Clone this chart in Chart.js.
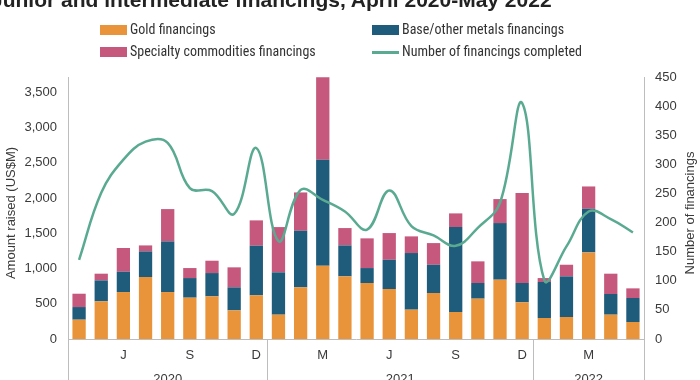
<!DOCTYPE html>
<html>
<head>
<meta charset="utf-8">
<script src="https://cdn.jsdelivr.net/npm/chart.js@4"></script>
<style>
  html, body { margin: 0; padding: 0; background: #fff; }
  #wrap { position: relative; width: 700px; height: 380px; overflow: hidden; background: #fff; }
  #c { position: absolute; left: 0; top: 0; }
  #title { position: absolute; left: -9px; top: -11px; font: bold 21px "Liberation Sans", Arial, sans-serif; line-height: 21px; color: #222; white-space: nowrap; }
  .lg { position: absolute; font: 14px "Liberation Sans Narrow", "Roboto Condensed", Roboto, sans-serif; color: #333; white-space: nowrap; line-height: 16px; }
  .sw { position: absolute; }
</style>
</head>
<body>
<div id="wrap">
  <canvas id="c" width="700" height="380"></canvas>
  <div id="title">Junior and intermediate financings, April 2020-May 2022</div>
  <div id="legend"></div>
</div>
<script>
const months = ['Apr 2020','May 2020','Jun 2020','Jul 2020','Aug 2020','Sep 2020','Oct 2020','Nov 2020','Dec 2020',
  'Jan 2021','Feb 2021','Mar 2021','Apr 2021','May 2021','Jun 2021','Jul 2021','Aug 2021','Sep 2021','Oct 2021','Nov 2021','Dec 2021',
  'Jan 2022','Feb 2022','Mar 2022','Apr 2022','May 2022'];
const tickLetters = ['', '', 'J', '', '', 'S', '', '', 'D', '', '', 'M', '', '', 'J', '', '', 'S', '', '', 'D', '', '', 'M', '', ''];
const years = ['2020', '2021', '2022'];
const yearFirstIndex = [0, 9, 21];
const yearLastIndex = [8, 20, 25];
const leftTicks = [0, 500, 1000, 1500, 2000, 2500, 3000, 3500];
const rightTicks = [0, 50, 100, 150, 200, 250, 300, 350, 400, 450];

const gold = [274, 534, 666, 879, 666, 586, 605, 406, 619, 345, 732, 1039, 888, 794, 709, 416, 652, 383, 572, 841, 520, 298, 312, 1228, 345, 241];
const baseMetals = [179, 297, 288, 363, 718, 278, 330, 326, 704, 600, 803, 1502, 439, 212, 415, 803, 401, 1204, 222, 803, 274, 510, 576, 619, 293, 340];
const specialty = [189, 95, 336, 85, 458, 142, 175, 284, 359, 642, 543, 1172, 246, 421, 378, 236, 307, 194, 307, 340, 1275, 56, 165, 316, 288, 137];
const financingsCount = [136, 251, 308, 339, 337, 259, 254, 215, 328, 168, 256, 239, 219, 188, 255, 194, 178, 160, 191, 234, 405, 101, 159, 219, 206, 183];

const seriesNames = ['Gold financings', 'Base/other metals financings', 'Specialty commodities financings', 'Number of financings completed'];
const colors = { gold: '#e9943a', base: '#1f5b7b', spec: '#c5587c', line: '#5aaa92' };

// HTML legend (two columns)
const legendItems = [
  { name: seriesNames[0], color: colors.gold, kind: 'box', x: 100, y: 30 },
  { name: seriesNames[1], color: colors.base, kind: 'box', x: 372, y: 30 },
  { name: seriesNames[2], color: colors.spec, kind: 'box', x: 100, y: 52 },
  { name: seriesNames[3], color: colors.line, kind: 'line', x: 372, y: 52 }
];
const lg = document.getElementById('legend');
legendItems.forEach(it => {
  const sw = document.createElement('div');
  sw.className = 'sw';
  sw.style.left = it.x + 'px';
  sw.style.width = '27px';
  sw.style.background = it.color;
  if (it.kind === 'box') { sw.style.top = (it.y - 5) + 'px'; sw.style.height = '10px'; }
  else { sw.style.top = (it.y - 1) + 'px'; sw.style.height = '2.5px'; }
  lg.appendChild(sw);
  const t = document.createElement('div');
  t.className = 'lg';
  t.style.left = (it.x + 30) + 'px';
  t.style.top = (it.y - 9) + 'px';
  t.textContent = it.name;
  lg.appendChild(t);
});

const tickFont = { family: '"Liberation Sans", Arial, sans-serif', size: 13 };
const axisColor = '#bdbdbd';
const textColor = '#3a3a3a';

const extras = {
  id: 'extras',
  afterDraw(chart) {
    const ctx = chart.ctx;
    const a = chart.chartArea;
    const x = chart.scales.x;
    const H = chart.height;
    ctx.save();
    ctx.strokeStyle = axisColor;
    ctx.lineWidth = 1;
    const vlines = [a.left, a.right];
    for (let i = 0; i < years.length - 1; i++) {
      vlines.push((x.getPixelForValue(yearLastIndex[i]) + x.getPixelForValue(yearFirstIndex[i + 1])) / 2);
    }
    vlines.forEach(px => {
      const p = Math.round(px) + 0.5;
      ctx.beginPath(); ctx.moveTo(p, a.bottom); ctx.lineTo(p, H); ctx.stroke();
    });
    // year labels
    ctx.fillStyle = textColor;
    ctx.font = '13px "Liberation Sans", Arial, sans-serif';
    ctx.textAlign = 'center';
    ctx.textBaseline = 'alphabetic';
    const bounds = [a.left, vlines[2], vlines[3], a.right];
    years.forEach((y, i) => {
      ctx.fillText(y, (bounds[i] + bounds[i + 1]) / 2, 383);
    });
    // axis titles
    const cy = (a.top + a.bottom) / 2 + 5;
    ctx.save();
    ctx.translate(11, cy);
    ctx.rotate(-Math.PI / 2);
    ctx.textBaseline = 'middle';
    ctx.fillText('Amount raised (US$M)', 0, 0);
    ctx.restore();
    ctx.save();
    ctx.translate(690, cy);
    ctx.rotate(-Math.PI / 2);
    ctx.textBaseline = 'middle';
    ctx.fillText('Number of financings', 0, 0);
    ctx.restore();
    ctx.restore();
  }
};

new Chart(document.getElementById('c'), {
  data: {
    labels: months,
    datasets: [
      { type: 'line', label: seriesNames[3], data: financingsCount, yAxisID: 'y1', borderColor: colors.line,
        borderWidth: 2.5, pointRadius: 0, tension: 0.4, fill: false, order: 0 },
      { type: 'bar', label: seriesNames[0], data: gold, backgroundColor: colors.gold, yAxisID: 'y', stack: 's', order: 1 },
      { type: 'bar', label: seriesNames[1], data: baseMetals, backgroundColor: colors.base, yAxisID: 'y', stack: 's', order: 1 },
      { type: 'bar', label: seriesNames[2], data: specialty, backgroundColor: colors.spec, yAxisID: 'y', stack: 's', order: 1 }
    ]
  },
  options: {
    responsive: false,
    animation: false,
    devicePixelRatio: 1,
    layout: { padding: { top: 77, left: 0, right: 0, bottom: 0 } },
    datasets: { bar: { barPercentage: 0.6, categoryPercentage: 1 } },
    plugins: { legend: { display: false }, tooltip: { enabled: false }, title: { display: false } },
    scales: {
      x: {
        stacked: true,
        grid: { display: false, drawTicks: false },
        border: { display: true, color: axisColor },
        ticks: { autoSkip: false, maxRotation: 0, color: textColor, font: tickFont, padding: 9,
          callback: (v, i) => tickLetters[i] },
        afterFit: s => { s.height = 41; }
      },
      y: {
        position: 'left', stacked: true, min: 0, max: 3715,
        grid: { display: false, drawTicks: false },
        border: { display: true, color: axisColor },
        ticks: { color: textColor, font: tickFont, padding: 11,
          callback: v => v.toLocaleString('en-US') },
        afterBuildTicks: s => { s.ticks = leftTicks.map(v => ({ value: v })); },
        afterFit: s => { s.width = 68; }
      },
      y1: {
        position: 'right', min: 0, max: 450,
        grid: { display: false, drawTicks: false },
        border: { display: true, color: axisColor },
        ticks: { color: textColor, font: tickFont, padding: 11 },
        afterBuildTicks: s => { s.ticks = rightTicks.map(v => ({ value: v })); },
        afterFit: s => { s.width = 56; }
      }
    }
  },
  plugins: [extras]
});
</script>
</body>
</html>
